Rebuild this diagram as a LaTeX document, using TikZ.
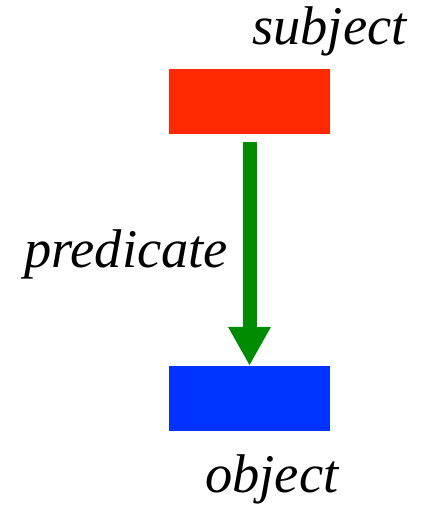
\documentclass[tikz,border=0pt]{standalone}
\usepackage{fontspec}
\setmainfont{Liberation Serif}
\usetikzlibrary{arrows.meta}
\definecolor{subjred}{RGB}{255,40,0}
\definecolor{objblue}{RGB}{0,51,255}
\definecolor{predgreen}{RGB}{0,140,0}
\begin{document}
\begin{tikzpicture}[x=1pt,y=1pt,
  box/.style={draw=none,minimum width=161pt,minimum height=65pt,inner sep=0pt},
  lbl/.style={anchor=base west,inner sep=0pt,font=\fontsize{54.5}{62}\selectfont\itshape}]
\useasboundingbox (0,0) rectangle (425,506);
\node[box,fill=subjred] (s) at (249.5,404.5) {};
\node[box,fill=objblue] (o) at (249.5,107.5) {};
\node[lbl] (st) at (252,461) {subject};
\node[lbl] (pt) at (24,238) {predicate};
\node[lbl] (ot) at (205,13) {object};
\draw[predgreen,line width=14pt,shorten <=8pt,-{Triangle[width=40pt,length=39pt]}] (s.south) -- (o.north);
\end{tikzpicture}
\end{document}
